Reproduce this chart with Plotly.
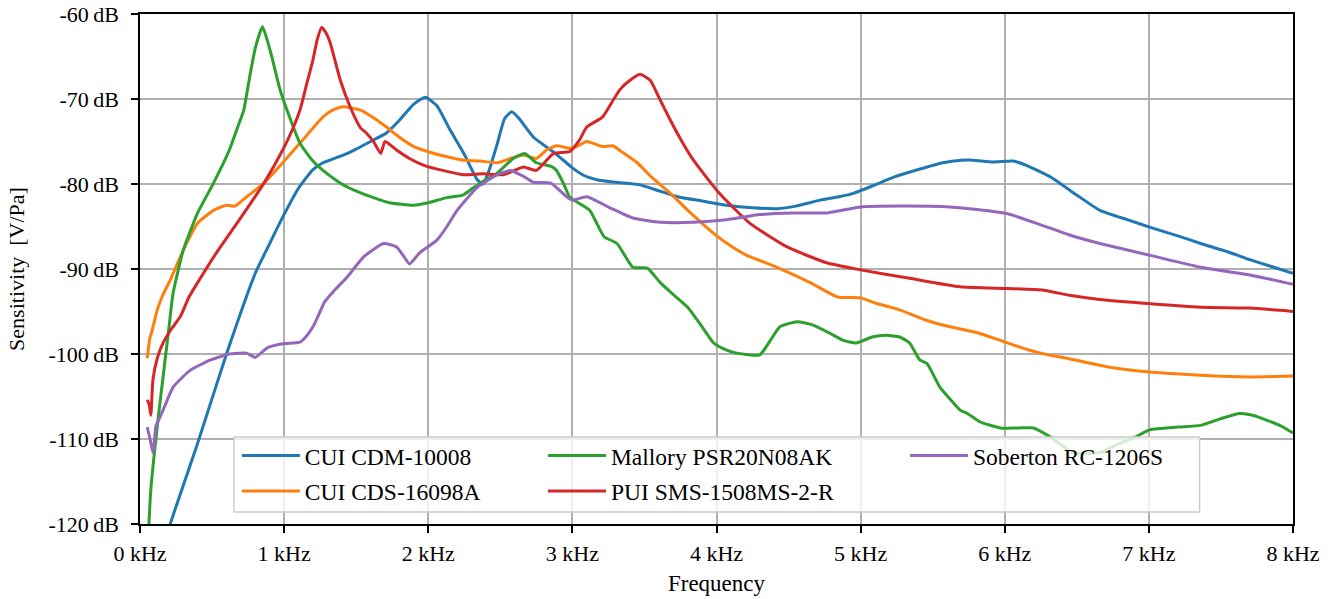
import plotly.graph_objects as go

# ---------------- data (frequency in kHz, sensitivity in dB re 1 V/Pa) ----------------
cdm_f = [0.18, 0.21, 0.40, 0.60, 0.80, 0.90, 0.99, 1.10, 1.20, 1.27, 1.44, 1.60, 1.71, 1.80, 1.90,
         1.98, 2.06, 2.15, 2.25, 2.34, 2.38, 2.42, 2.48, 2.53, 2.58, 2.63, 2.73, 2.85, 2.91, 3.00,
         3.08, 3.17, 3.30, 3.47, 3.60, 3.73, 3.90, 4.07, 4.25, 4.42, 4.55, 4.72, 4.85, 4.95, 5.10,
         5.23, 5.40, 5.57, 5.70, 5.78, 5.92, 6.06, 6.15, 6.32, 6.50, 6.66, 6.85, 7.01, 7.20, 7.36,
         7.55, 7.70, 7.85, 8.00]
cdm_db = [-122.0, -120.0, -110.5, -100.0, -90.5, -87.0, -83.9, -80.5, -78.3, -77.5, -76.4, -75.0, -74.0, -72.5, -70.6,
          -69.8, -70.8, -73.6, -76.5, -79.5, -80.0, -78.5, -75.2, -72.3, -71.5, -72.3, -74.5, -76.0, -76.8, -78.1,
          -79.0, -79.5, -79.8, -80.1, -80.8, -81.5, -82.0, -82.5, -82.8, -82.9, -82.6, -81.9, -81.5, -81.1, -80.1,
          -79.2, -78.3, -77.5, -77.2, -77.2, -77.4, -77.3, -77.8, -79.2, -81.3, -83.1, -84.2, -85.1, -86.1, -87.0,
          -88.0, -88.9, -89.7, -90.5]

cds_f = [0.05, 0.07, 0.08, 0.12, 0.16, 0.21, 0.30, 0.40, 0.51, 0.60, 0.66, 0.74, 0.86, 0.99, 1.13,
         1.27, 1.35, 1.41, 1.53, 1.62, 1.71, 1.80, 1.90, 2.00, 2.13, 2.25, 2.36, 2.48, 2.57, 2.66,
         2.75, 2.82, 2.89, 2.98, 3.03, 3.10, 3.21, 3.28, 3.35, 3.45, 3.55, 3.68, 3.82, 3.98, 4.10,
         4.21, 4.42, 4.65, 4.84, 5.00, 5.10, 5.27, 5.45, 5.62, 5.81, 5.97, 6.16, 6.30, 6.43, 6.71,
         6.99, 7.36, 7.70, 8.00]
cds_db = [-100.5, -98.0, -97.5, -94.8, -93.0, -91.3, -87.8, -84.6, -83.1, -82.5, -82.6, -81.5, -79.9, -77.5, -74.8,
          -72.1, -71.2, -70.9, -71.3, -72.2, -73.3, -74.5, -75.6, -76.2, -76.8, -77.2, -77.3, -77.5, -77.0, -76.6,
          -77.0, -76.0, -75.5, -75.8, -75.6, -75.0, -75.6, -75.5, -76.3, -77.5, -79.2, -81.1, -83.4, -85.8, -87.3,
          -88.4, -89.8, -91.6, -93.3, -93.4, -94.0, -94.8, -96.0, -96.8, -97.5, -98.4, -99.5, -100.1, -100.5, -101.5,
          -102.1, -102.5, -102.7, -102.6]

mal_f = [0.055, 0.062, 0.075, 0.10, 0.13, 0.16, 0.20, 0.23, 0.30, 0.40, 0.51, 0.62, 0.68, 0.72, 0.76,
         0.80, 0.85, 0.89, 0.92, 0.97, 1.02, 1.11, 1.20, 1.27, 1.40, 1.51, 1.62, 1.73, 1.90, 2.00,
         2.13, 2.24, 2.30, 2.36, 2.48, 2.59, 2.67, 2.75, 2.85, 2.89, 2.94, 2.98, 3.01, 3.12, 3.22,
         3.31, 3.42, 3.52, 3.61, 3.70, 3.80, 3.90, 3.98, 4.05, 4.14, 4.30, 4.37, 4.44, 4.56, 4.67,
         4.78, 4.88, 4.97, 5.08, 5.18, 5.27, 5.34, 5.41, 5.46, 5.55, 5.62, 5.69, 5.74, 5.83, 5.97,
         6.10, 6.20, 6.32, 6.47, 6.66, 6.80, 6.89, 7.01, 7.20, 7.36, 7.50, 7.63, 7.72, 7.82, 7.92,
         8.00]
mal_db = [-123.0, -120.0, -116.0, -111.6, -107.0, -102.7, -97.0, -92.8, -87.8, -83.4, -79.9, -76.0, -73.2, -71.3, -67.5,
          -64.0, -61.5, -63.5, -65.4, -68.8, -71.3, -75.2, -77.3, -78.4, -80.0, -80.9, -81.6, -82.2, -82.5, -82.2,
          -81.6, -81.3, -80.6, -79.9, -78.7, -77.0, -76.4, -77.5, -77.9, -78.4, -80.0, -81.5, -81.9, -83.1, -86.2,
          -87.0, -89.8, -89.9, -91.6, -93.0, -94.5, -96.8, -98.7, -99.4, -99.9, -100.1, -98.5, -96.8, -96.2, -96.6,
          -97.5, -98.4, -98.7, -98.0, -97.8, -98.0, -98.7, -100.7, -101.1, -103.9, -105.3, -106.6, -107.0, -108.0, -108.7,
          -108.7, -108.7, -109.8, -111.6, -111.6, -110.5, -109.9, -108.9, -108.6, -108.4, -107.6, -107.0, -107.2, -107.8, -108.5,
          -109.3]

pui_f = [0.05, 0.065, 0.075, 0.09, 0.12, 0.16, 0.22, 0.28, 0.34, 0.40, 0.53, 0.69, 0.86, 0.99, 1.06,
         1.11, 1.16, 1.20, 1.23, 1.26, 1.29, 1.32, 1.39, 1.46, 1.53, 1.57, 1.62, 1.67, 1.70, 1.78,
         1.87, 1.97, 2.10, 2.24, 2.38, 2.52, 2.60, 2.66, 2.75, 2.87, 2.98, 3.05, 3.10, 3.21, 3.27,
         3.33, 3.40, 3.47, 3.54, 3.60, 3.68, 3.76, 3.84, 4.02, 4.23, 4.49, 4.77, 5.00, 5.34, 5.69,
         6.02, 6.27, 6.45, 6.66, 7.01, 7.36, 7.70, 8.00]
pui_db = [-105.4, -106.0, -107.2, -103.0, -100.5, -98.7, -97.0, -95.6, -93.3, -91.6, -88.1, -84.2, -79.9, -76.0, -73.5,
          -71.3, -68.0, -65.4, -63.0, -61.6, -62.2, -63.4, -67.8, -71.0, -73.4, -74.0, -75.0, -76.4, -75.0, -76.0,
          -77.0, -77.8, -78.4, -78.9, -78.8, -78.9, -78.4, -78.0, -78.4, -76.4, -76.2, -74.8, -73.3, -72.1, -70.5,
          -68.9, -67.8, -67.1, -67.8, -69.8, -72.5, -75.0, -77.2, -81.1, -84.6, -87.4, -89.3, -90.1, -91.1, -92.1,
          -92.3, -92.5, -93.1, -93.6, -94.1, -94.5, -94.6, -95.0]

sob_f = [0.05, 0.07, 0.09, 0.11, 0.12, 0.16, 0.23, 0.35, 0.49, 0.62, 0.74, 0.80, 0.88, 0.99, 1.11,
         1.15, 1.20, 1.25, 1.28, 1.35, 1.44, 1.55, 1.69, 1.78, 1.83, 1.87, 1.94, 2.06, 2.13, 2.20,
         2.34, 2.48, 2.57, 2.65, 2.73, 2.85, 2.96, 3.00, 3.10, 3.26, 3.42, 3.61, 3.84, 4.07, 4.30,
         4.53, 4.77, 4.90, 5.00, 5.27, 5.62, 5.81, 6.02, 6.25, 6.45, 6.66, 7.01, 7.36, 7.70, 8.00]
sob_db = [-108.6, -110.0, -111.6, -108.5, -108.1, -106.6, -103.9, -101.9, -100.7, -100.0, -99.9, -100.4, -99.3, -98.8, -98.6,
          -98.0, -96.8, -95.0, -93.9, -92.5, -90.9, -88.6, -87.0, -87.4, -88.5, -89.4, -88.1, -86.6, -85.0, -83.1,
          -80.4, -78.9, -78.4, -79.0, -79.8, -79.9, -81.5, -81.9, -81.5, -82.8, -84.0, -84.5, -84.5, -84.2, -83.6,
          -83.4, -83.4, -83.0, -82.7, -82.6, -82.7, -83.0, -83.5, -84.8, -86.0, -87.0, -88.4, -89.8, -90.7, -91.8]

names = ["CUI CDM-10008", "CUI CDS-16098A", "Mallory PSR20N08AK", "PUI SMS-1508MS-2-R", "Soberton RC-1206S"]
colors = ["#1f77b4", "#ff7f0e", "#2ca02c", "#d62728", "#9467bd"]
legends = ["legend", "legend", "legend2", "legend2", "legend3"]
series = [(cdm_f, cdm_db), (cds_f, cds_db), (mal_f, mal_db), (pui_f, pui_db), (sob_f, sob_db)]

x_ticks = list(range(0, 9))
x_ticktext = [f"{v} kHz" for v in x_ticks]
y_ticks = list(range(-120, -59, 10))
y_ticktext = [f"{v}\u2009dB" for v in y_ticks]

FONT = "Liberation Serif"

fig = go.Figure()
for (f, db), name, col, lg in zip(series, names, colors, legends):
    fig.add_trace(go.Scatter(x=f, y=db, mode="lines", name=name, legend=lg,
                             legendgroup=name,
                             line=dict(color=col, width=3, shape="spline", smoothing=0.5)))

# legend background box (drawn above the curves, semi-transparent like matplotlib)
fig.add_shape(type="rect", xref="paper", yref="paper",
              x0=0.0815, x1=0.919, y0=0.0235, y1=0.1706,
              line=dict(color="#cccccc", width=1.5),
              fillcolor="rgba(255,255,255,0.8)", layer="above")

legend_common = dict(bgcolor="rgba(0,0,0,0)", borderwidth=0,
                     font=dict(family=FONT, size=23.5, color="black"),
                     orientation="v", xanchor="left", yanchor="top",
                     traceorder="grouped", tracegroupgap=2, itemwidth=58)

fig.update_layout(
    width=1336, height=599,
    margin=dict(l=140, r=43, t=14, b=75),
    paper_bgcolor="white", plot_bgcolor="white",
    font=dict(family=FONT, size=22, color="black"),
    showlegend=True,
    legend=dict(x=0.084, y=0.177, **legend_common),
    legend2=dict(x=0.3495, y=0.177, **legend_common),
    legend3=dict(x=0.6635, y=0.177, **legend_common),
    xaxis=dict(range=[0, 8], tickvals=x_ticks, ticktext=x_ticktext,
               showgrid=True, gridcolor="#b0b0b0", gridwidth=1.5,
               showline=True, linecolor="black", linewidth=1.5, mirror=True,
               ticks="outside", ticklen=7, tickwidth=1.5, tickcolor="black",
               zeroline=False, automargin=False, ticklabelstandoff=2,
               title=dict(text="Frequency", font=dict(family=FONT, size=23), standoff=10),
               tickfont=dict(family=FONT, size=22)),
    yaxis=dict(range=[-120, -60], tickvals=y_ticks, ticktext=y_ticktext,
               showgrid=True, gridcolor="#b0b0b0", gridwidth=1.5,
               showline=True, linecolor="black", linewidth=1.5, mirror=True,
               ticks="outside", ticklen=7, tickwidth=1.5, tickcolor="black",
               zeroline=False, automargin=False, ticklabelstandoff=8,
               title=dict(text="Sensitivity  [V/Pa]", font=dict(family=FONT, size=22), standoff=18),
               tickfont=dict(family=FONT, size=22)),
)

fig.write_html("out.html")
